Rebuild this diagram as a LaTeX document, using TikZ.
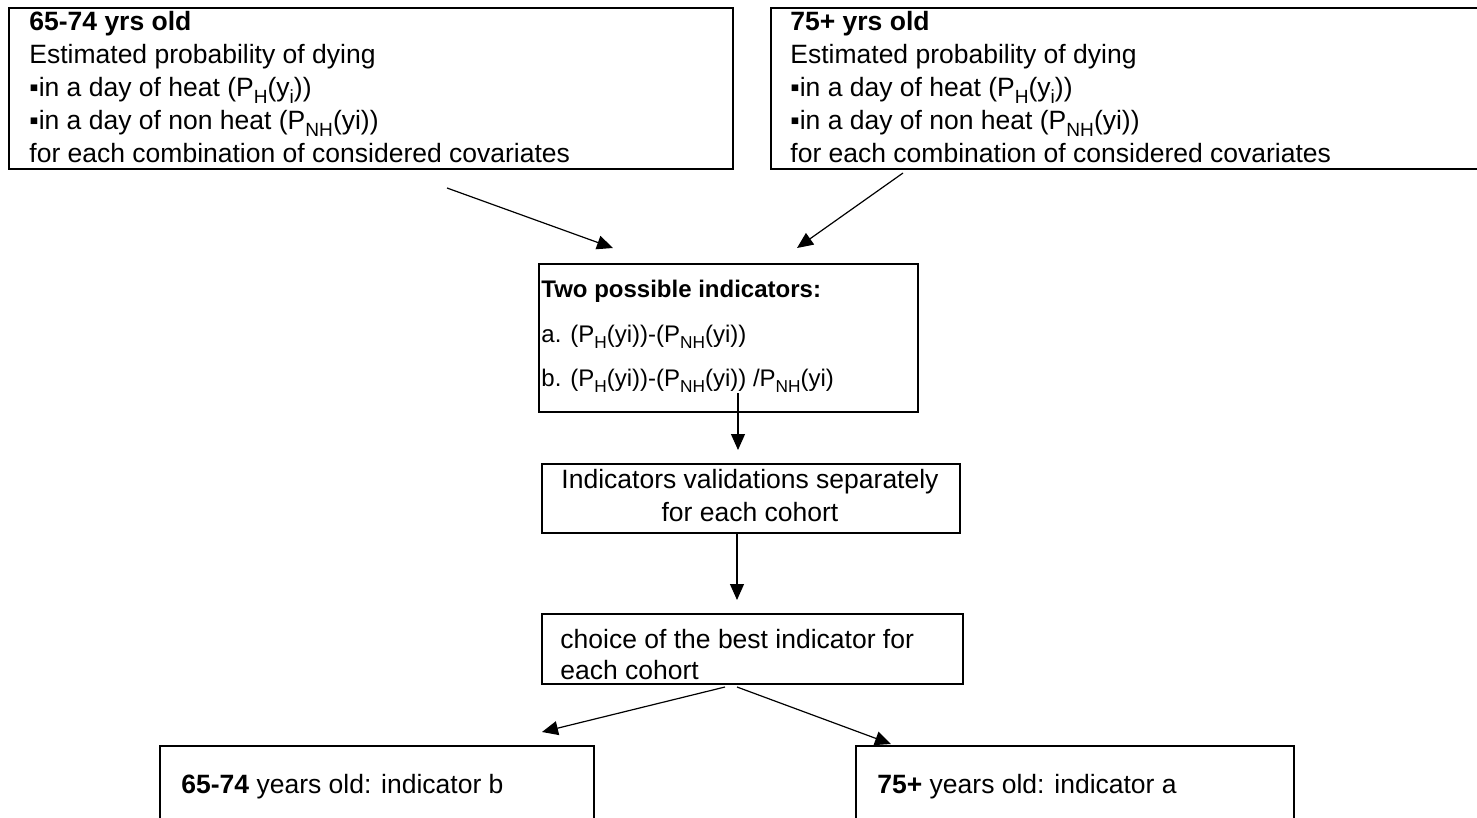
\documentclass[tikz,border=0pt]{standalone}
\usepackage{fontspec}
\usepackage{graphicx}
\setmainfont{Liberation Sans}
\usetikzlibrary{arrows.meta,positioning}

\tikzset{
    box/.style={draw, line width=0.8pt, inner sep=0pt, anchor=north west},
    txt/.style={inner sep=0pt, align=left, anchor=base west, font=\fontsize{13.25}{16.5}\selectfont},
    smalltxt/.style={inner sep=0pt, align=left, anchor=base west, font=\fontsize{12}{22}\selectfont},
    arr/.style={line width=0.6pt, -{Triangle[length=8pt,width=7pt]}}
}
\newcommand{\sub}[1]{\raisebox{-0.25em}{\scalebox{0.72}{#1}}}

\begin{document}
\begin{tikzpicture}[x=0.5pt, y=-0.5pt]
    \useasboundingbox (0,0) rectangle (1477,818);
    \clip (0,0) rectangle (1477,818);

    % Boxes
    \node[box, minimum width=362pt, minimum height=80.5pt] (young) at (8,7) {};
    \node[box, minimum width=353.5pt, minimum height=80.5pt] (old) at (770,7) {};
    \node[box, minimum width=189.5pt, minimum height=74pt] (ind) at (538,263) {};
    \node[box, minimum width=209pt, minimum height=34.5pt] (valid) at (541,463) {};
    \node[box, minimum width=210.5pt, minimum height=35pt] (best) at (541,613) {};
    \node[box, minimum width=217pt, minimum height=100pt] (resyoung) at (159,745) {};
    \node[box, minimum width=219pt, minimum height=100pt] (resold) at (855,745) {};

    % Texts (anchored at the baseline of their last line)
    \node[txt] (youngtxt) at (29,163) {\textbf{65-74 yrs old}\\
        Estimated probability of dying\\
        ▪in a day of heat (P\sub{H}(y\sub{i}))\\
        ▪in a day of non heat (P\sub{NH}(yi))\\
        for each combination of considered covariates};
    \node[txt] (oldtxt) at (790,163) {\textbf{75+ yrs old}\\
        Estimated probability of dying\\
        ▪in a day of heat (P\sub{H}(y\sub{i}))\\
        ▪in a day of non heat (P\sub{NH}(yi))\\
        for each combination of considered covariates};
    \node[smalltxt] (indtxt) at (541,386) {\textbf{Two possible indicators:}\\
        a. (P\sub{H}(yi))-(P\sub{NH}(yi))\\
        b. (P\sub{H}(yi))-(P\sub{NH}(yi)) /P\sub{NH}(yi)};
    \node[txt, align=center, anchor=base] (validtxt) at (750,521) {Indicators validations separately\\
        for each cohort};
    \node[txt] (besttxt) at (560,679) {choice of the best indicator for\\[-1pt]
        each cohort};
    \node[txt] (resyoungtxt) at (181,793) {\textbf{65-74} years old: indicator b};
    \node[txt] (resoldtxt) at (877,793) {\textbf{75+} years old: indicator a};

    % Free ends of the arrows
    \coordinate (s1) at (447,188);  \coordinate (e1) at (613,248);
    \coordinate (s2) at (903,173);  \coordinate (e2) at (797,248);
    \coordinate (s3) at (738,393);  \coordinate (e3) at (738,450);
    \coordinate (s4) at (737,532);  \coordinate (e4) at (737,600);
    \coordinate (s5) at (725,687);  \coordinate (e5) at (542,732);
    \coordinate (s6) at (737,687);  \coordinate (e6) at (891,744);

    % Arrows
    \foreach \i in {1,...,6}
        \draw[arr] (s\i) -- (e\i);
\end{tikzpicture}
\end{document}
